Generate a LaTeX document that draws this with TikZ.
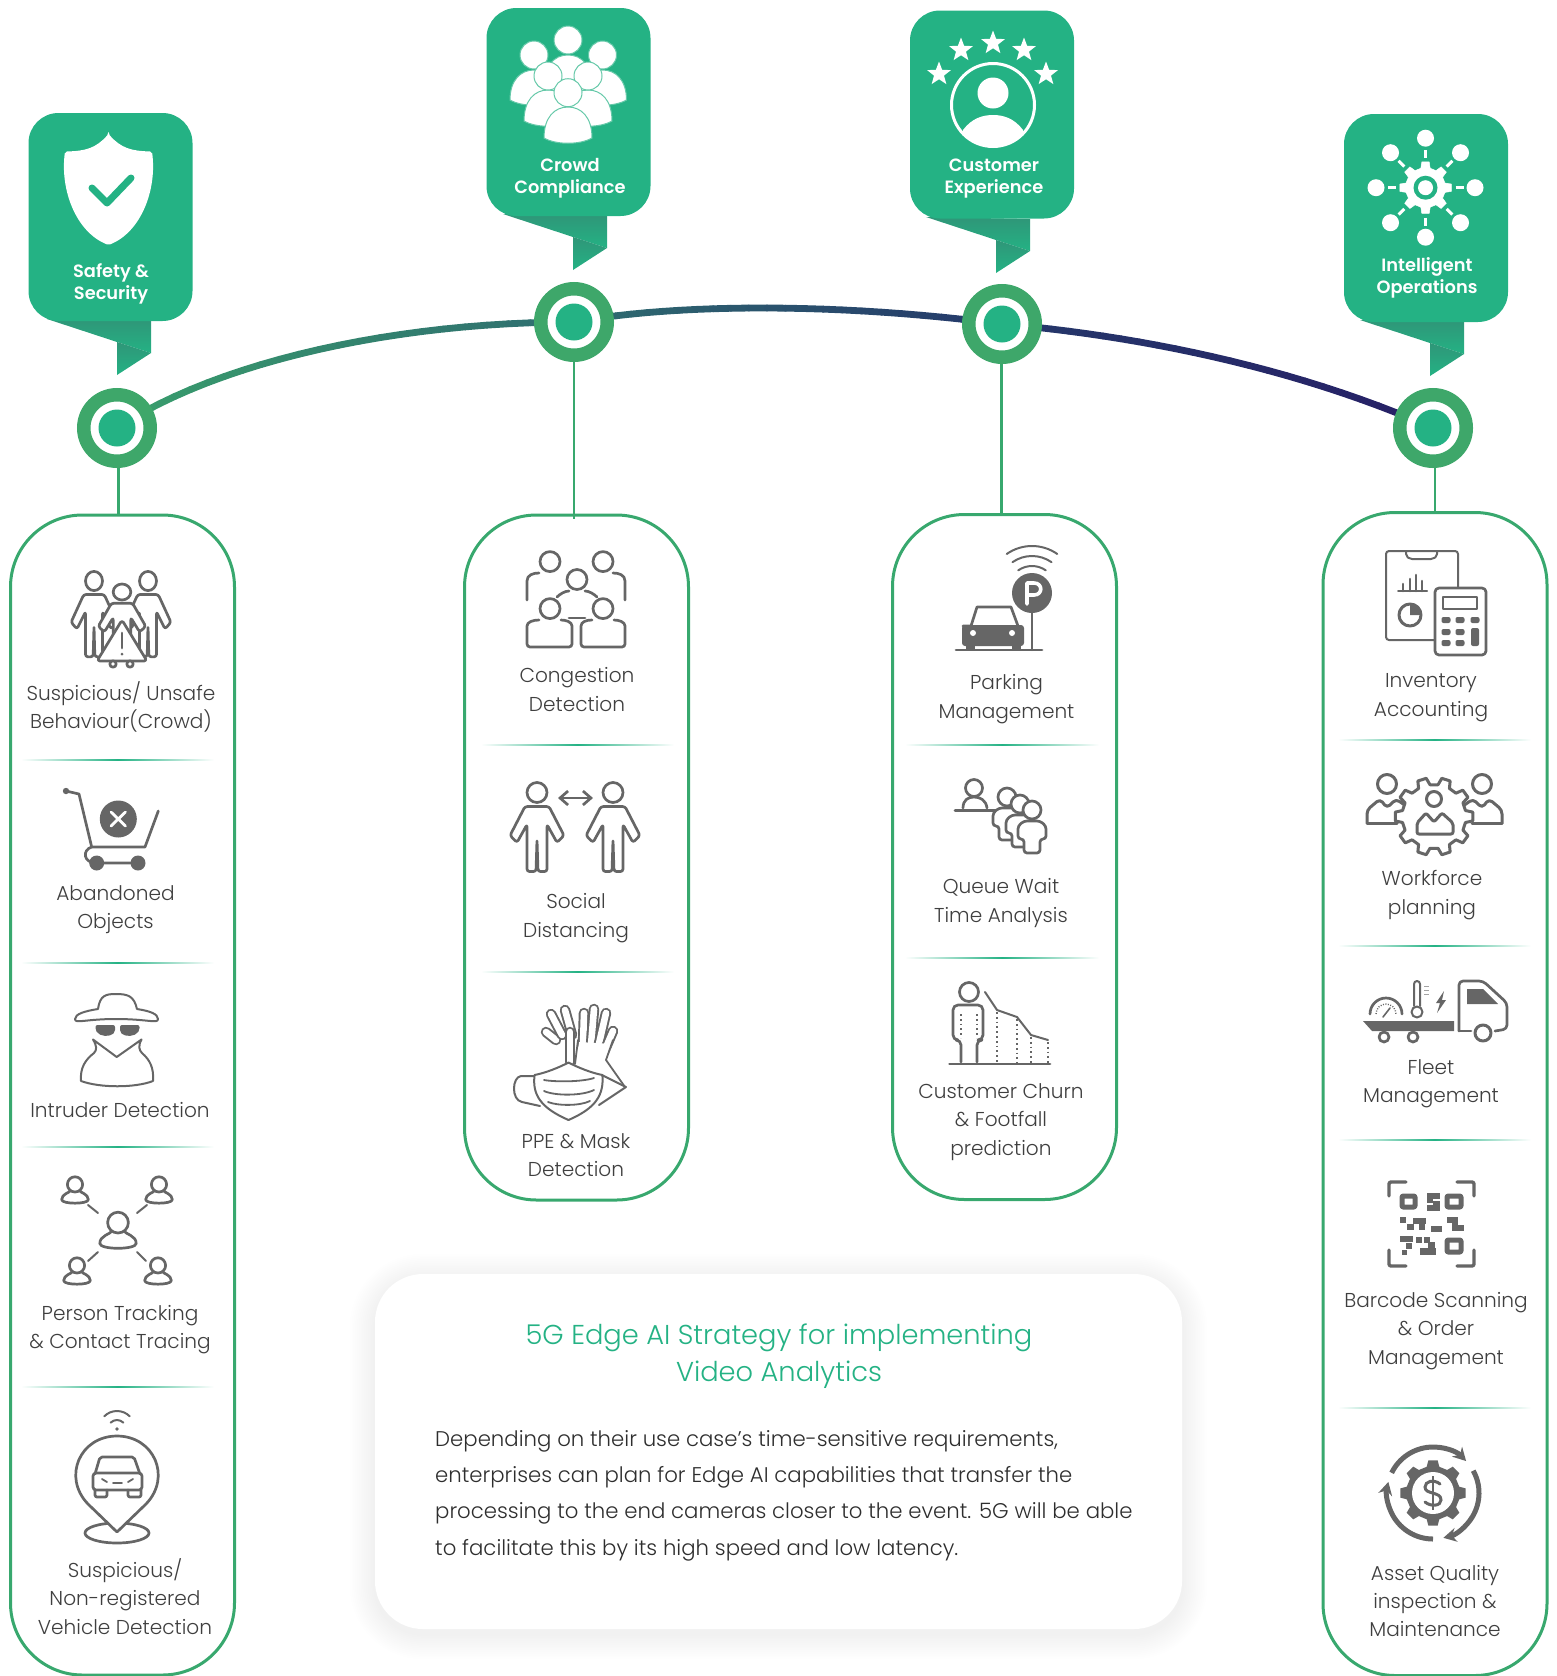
\documentclass[tikz,border=0pt]{standalone}
\usepackage{fontspec}
\setmainfont{Poppins Light}
\newfontfamily\badgefont{Poppins SemiBold}
\usetikzlibrary{arrows.meta,calc}
\definecolor{teal1}{HTML}{24B284}
\definecolor{tealdark}{HTML}{2F9678}
\definecolor{ringgreen}{HTML}{3EA76A}
\definecolor{lanegreen}{HTML}{38A86E}
\definecolor{icongray}{HTML}{666666}
\definecolor{txtgray}{HTML}{3F3F3F}
\definecolor{cvA}{HTML}{39A06C}
\definecolor{cvB}{HTML}{2F6E70}
\definecolor{cvC}{HTML}{25386A}
\definecolor{cvD}{HTML}{262066}
\pgfdeclarelayer{bg}\pgfsetlayers{bg,main}
\tikzset{
  ic/.style={draw=icongray,line width=2.7pt,line cap=round,line join=round},
  icthin/.style={draw=icongray,line width=1.8pt,line cap=round,line join=round},
  icfill/.style={fill=icongray},
  crowdline/.style={fill=white,draw=teal1!70!white,line width=1pt},
  badgebox/.style={fill=teal1,rounded corners=30pt,minimum width=164pt,minimum height=208pt,inner sep=0pt,draw=none},
  badgetxt/.style={text=white,align=center,inner sep=0pt,font=\badgefont\fontsize{17.8}{22}\selectfont},
  ring/.style={circle,fill=white,draw=ringgreen,line width=13.5pt,minimum size=66.5pt,inner sep=0pt},
  ringdot/.style={circle,fill=teal1,minimum size=37pt,inner sep=0pt},
  lane/.style={draw=lanegreen,line width=3pt,rounded corners=72pt,minimum width=224pt,inner sep=0pt},
  lbl/.style={text=txtgray,align=center,inner sep=0pt,font=\fontsize{20.1}{28.4}\selectfont},
  link/.style={draw=lanegreen,line width=2.4pt},
  cardbox/.style={fill=white,rounded corners=48pt,minimum width=807pt,minimum height=355pt,inner sep=0pt},
  cardtitle/.style={text=teal1,align=center,inner sep=0pt,font=\fontsize{27.3}{37.4}\selectfont},
  cardbody/.style={text=black!82,align=left,inner sep=0pt,font=\fontsize{21.25}{36.4}\selectfont},
}
\newcommand{\icribbon}[2]{% x0, bottom y
  \shade[top color=tealdark,bottom color=teal1] ({#1+19},{#2-2}) -- ({#1+123},#2) -- ({#1+123},{#2+32}) -- ({#1+89},{#2+21}) -- cycle;
  \shade[top color=tealdark,bottom color=teal1] ({#1+89},{#2+21}) -- ({#1+123},{#2+32}) -- ({#1+89},{#2+54}) -- cycle;
}
\newcommand{\icsep}[3]{% x1,x2,y
  \shade[left color=white,right color=white,middle color=teal1] ({#1-2},{#3-.9}) rectangle ({#2+2},{#3+.9});
}
\newcommand{\iccurve}[6]{%
  \foreach \i in {1,...,24}{%
    \pgfmathsetmacro\pp{(\i-1)/24}\pgfmathsetmacro\qq{\i/24}\pgfmathtruncatemacro\mm{100*(\i-1)/23}%
    \path (#1.center) .. controls (#2) and (#3) .. (#4.center) coordinate[pos=\pp] (cva) coordinate[pos=\qq] (cvb);
    \draw[line width=6.8pt,line cap=round,color=#6!\mm!#5] (cva) -- (cvb);
  }%
}
\newcommand{\icperson}[4]{%
  \begin{scope}[shift={(#1,#2)},xscale=#3,yscale=#4]
    \draw[ic,fill=white] (0,0) circle (10);
    \draw[ic,fill=white,rounded corners=2.5pt] (-12,14)--(12,14)--(27,43)--(20,50)--(10,32)--(10,79)--(1,79)--(0,47)--(-1,79)--(-10,79)--(-10,32)--(-20,50)--(-27,43)--cycle;
  \end{scope}}
\newcommand{\icbust}[3]{% x,y,scale
  \begin{scope}[shift={(#1,#2)},scale=#3]
    \draw[ic,fill=white] (-4,-2) .. controls (-6,1) and (-14,2) .. (-14,8) .. controls (-14,13) and (14,13) .. (14,8) .. controls (14,2) and (6,1) .. (4,-2);
    \draw[ic,fill=white] (0,-8) circle (8);
  \end{scope}}
\newcommand{\icwifi}[4]{% x,y,radius list,half angle
  \foreach \r in {#3}{\draw[ic,line width=2pt] ([shift={({270-#4}:\r)}]#1,#2) arc[start angle={270-#4},end angle={270+#4},radius=\r];}}
\newcommand{\icgear}[7]{% opts,x,y,n,r1,r2,dummy
  \begin{scope}[shift={(#2,#3)}]
    \pgfmathsetmacro\stp{360/#4}
    \draw[#1] ({-.18*\stp}:#6) \foreach \i in {1,...,#4}{ -- ({(\i-1)*\stp-.18*\stp}:#6) -- ({(\i-1)*\stp+.18*\stp}:#6) -- ({(\i-1)*\stp+.3*\stp}:#5) -- ({\i*\stp-.3*\stp}:#5) } -- cycle;
  \end{scope}}
\newcommand{\icstar}[3]{%
  \begin{scope}[shift={(#1,#2)}]
    \fill[white] (270:#3) \foreach \k in {1,...,9}{ -- ({270+36*\k}:{#3*(1-.58*mod(\k,2))}) } -- cycle;
  \end{scope}}
\newcommand{\crowdbody}[4]{%
  \draw[crowdline] ({#1-#3},{#4-5}) .. controls ({#1-#3},{#2+10}) and ({#1-#3*.55},#2) .. (#1,#2) .. controls ({#1+#3*.55},#2) and ({#1+#3},{#2+10}) .. ({#1+#3},{#4-5}) .. controls ({#1+#3*.5},{#4+2}) and ({#1-#3*.5},{#4+2}) .. cycle;
}
\newcommand{\crowdhead}[3]{\draw[crowdline] (#1,#2) circle (#3);}
\newcommand{\capsule}[4]{% x1,y1,x2,y2
  \draw[draw=icongray,line width=10.5pt,line cap=round] (#1,#2) -- (#3,#4);
  \draw[draw=white,line width=6.6pt,line cap=round] (#1,#2) -- (#3,#4);
}
\newcommand{\ickey}[2]{\fill[icongray,rounded corners=2pt] ({#1-4.5},{#2-3}) rectangle ({#1+4.5},{#2+3});}
\begin{document}
\begin{tikzpicture}[x=1pt,y=-1pt]
\useasboundingbox (0,0) rectangle (1557,1676);

% ---- badges
\icribbon{28}{321}\icribbon{484}{216}\icribbon{907}{219}\icribbon{1341}{322}
\node[badgebox] (bg1) at (110.5,217) {};
\node[badgebox] (bg2) at (568.5,112) {};
\node[badgebox] (bg3) at (992,114.5) {};
\node[badgebox] (bg4) at (1426,218) {};
\node[badgetxt] (bt1) at (111,283.5) {Safety \&\\Security};
\node[badgetxt] (bt2) at (570,178.5) {Crowd\\Compliance};
\node[badgetxt] (bt3) at (994,178.5) {Customer\\Experience};
\node[badgetxt] (bt4) at (1427,278) {Intelligent\\Operations};

% shield
\fill[white,rounded corners=2pt] (108.5,134) .. controls (96,148) and (86,151) .. (65,151.5) .. controls (60,190) and (76,232) .. (108.5,245) .. controls (141,232) and (157,190) .. (152,151.5) .. controls (131,151) and (121,148) .. (108.5,134) -- cycle;
\draw[teal1,line width=7pt,line cap=round,line join=round] (92,188) -- (107,203) -- (131,178);

% crowd
\crowdbody{568}{55}{25}{100}\crowdhead{568}{40}{14}
\crowdbody{534}{70}{24}{105}\crowdbody{602.5}{70}{24}{105}
\crowdhead{534}{55}{14}\crowdhead{602.5}{55}{14}
\crowdbody{548}{90}{24}{126}\crowdbody{588}{90}{24}{126}
\crowdhead{548}{76}{14}\crowdhead{588}{76}{14}
\crowdbody{568}{107}{24}{143}\crowdhead{568}{92.7}{14}

% customer
\icstar{993}{43}{12.5}\icstar{961}{50}{12.5}\icstar{1024}{50}{12.5}\icstar{939}{74}{12.5}\icstar{1046}{74}{12.5}
\draw[white,line width=3pt] (993,105) circle (41.5);
\fill[white] (993,93) circle (15.5);
\begin{scope}
  \clip (993,105) circle (41);
  \fill[white] (962,150) -- (963,130) .. controls (972,118) and (983,115) .. (993,115) .. controls (1003,115) and (1014,118) .. (1023,130) -- (1024,150) -- cycle;
\end{scope}

% intelligent ops
\foreach \a in {0,45,...,315}{%
  \fill[white] ($(1425.5,187.7)+(\a:49.5)$) circle (8.5);
  \draw[white,line width=3pt] ($(1425.5,187.7)+(\a:30)$) -- ($(1425.5,187.7)+(\a:38)$);
}
\icgear{fill=white,draw=white,line width=.5pt}{1425.5}{187.7}{8}{20}{26}{}
\fill[teal1] (1425.5,187.7) circle (12);
\fill[white] (1425.5,187.7) circle (7.5);

% ---- lane boxes
\node[lane,minimum height=1160pt] (b1) at (122.5,1095) {};
\node[lane,minimum height=685pt] (b2) at (576.5,857.5) {};
\node[lane,minimum height=685pt] (b3) at (1004.5,857) {};
\node[lane,minimum height=1163pt] (b4) at (1435,1094) {};

% ---- timeline nodes
\node[ring] (n1) at (117,428) {}; \node[ringdot] (d1) at (n1) {};
\node[ring] (n2) at (574,322) {}; \node[ringdot] (d2) at (n2) {};
\node[ring] (n3) at (1002,324) {}; \node[ringdot] (d3) at (n3) {};
\node[ring] (n4) at (1433,428) {}; \node[ringdot] (d4) at (n4) {};

\begin{pgfonlayer}{bg}
  \coordinate (c1a) at (220,360); \coordinate (c1b) at (400,322);
  \coordinate (c2a) at (680,303); \coordinate (c2b) at (840,303);
  \coordinate (c3a) at (1130,335); \coordinate (c3b) at (1290,365);
  \iccurve{n1}{c1a}{c1b}{n2}{cvA}{cvB}
  \iccurve{n2}{c2a}{c2b}{n3}{cvB}{cvC}
  \iccurve{n3}{c3a}{c3b}{n4}{cvC}{cvD}
  \draw[link] ([xshift=1.5pt]n1.south) -- ([xshift=1.5pt]n1.south |- b1.north);
  \draw[link,shorten >=-5pt] (n2.south) -- (n2.south |- b2.north);
  \draw[link] ([xshift=-.5pt]n3.south) -- ([xshift=-.5pt]n3.south |- b3.north);
  \draw[link] ([xshift=2pt]n4.south) -- ([xshift=2pt]n4.south |- b4.north);
\end{pgfonlayer}

% ---- separators
\icsep{23}{212}{760}\icsep{23}{212}{963}\icsep{23}{212}{1147}\icsep{23}{212}{1387}
\icsep{483}{672}{745}\icsep{483}{672}{972}
\icsep{907}{1097}{745}\icsep{907}{1097}{958}
\icsep{1340}{1529}{740}\icsep{1340}{1529}{946}\icsep{1340}{1529}{1140}\icsep{1340}{1529}{1408}

% ---- labels
\node[lbl] (l11) at (121,707) {Suspicious/ Unsafe\\Behaviour(Crowd)};
\node[lbl] (l12) at (115.5,909.5) {Abandoned\\Objects};
\node[lbl] (l13) at (120,1110) {Intruder Detection};
\node[lbl] (l14) at (120,1329.5) {Person Tracking\\\& Contact Tracing};
\node[lbl] (l15) at (125,1596.5) {Suspicious/\\Non-registered\\Vehicle Detection};
\node[lbl] (l21) at (577,689.5) {Congestion\\Detection};
\node[lbl] (l22) at (576,918) {Social\\Distancing};
\node[lbl] (l23) at (576,1155) {PPE \& Mask\\Detection};
\node[lbl] (l31) at (1006.5,699) {Parking\\Management};
\node[lbl] (l32) at (1001,903) {Queue Wait\\Time Analysis};
\node[lbl] (l33) at (1001,1122) {Customer Churn\\\& Footfall\\prediction};
\node[lbl] (l41) at (1431,697.5) {Inventory\\Accounting};
\node[lbl] (l42) at (1432,895) {Workforce\\planning};
\node[lbl] (l43) at (1431,1084) {Fleet\\Management};
\node[lbl] (l44) at (1436,1331) {Barcode Scanning\\\& Order\\Management};
\node[lbl] (l45) at (1435,1601) {Asset Quality\\inspection \&\\Maintenance};

% ---- info card
\foreach \k in {1,...,14}{%
  \pgfmathsetmacro\rc{48+1.8*\k}
  \fill[black,opacity=.005,rounded corners=\rc pt] ({375-1.8*\k},{1274-1.8*\k+5}) rectangle ({1182+1.8*\k},{1629+1.8*\k+5});
}
\node[cardbox] (card) at (778.5,1451.5) {};
\node[cardtitle] (ct) at (779,1356) {5G Edge AI Strategy for implementing\\Video Analytics};
\node[cardbody,anchor=west] (cb) at (435,1495.5) {Depending on their use case's time-sensitive requirements,\\enterprises can plan for Edge AI capabilities that transfer the\\processing to the end cameras closer to the event. 5G will be able\\to facilitate this by its high speed and low latency.};

% ---- ICON suspicious crowd
\icperson{94}{581}{.85}{.96}\icperson{148}{581}{.85}{.96}
\icperson{122}{592}{.88}{.8}
\draw[ic,fill=white,rounded corners=3pt] (122,620) -- (147,661) -- (97,661) -- cycle;
\draw[ic,fill=white] (113,664) circle (3.2); \draw[ic,fill=white] (130,664) circle (3.2);
\draw[ic] (122,633) -- (122,648); \fill[icongray] (122,654) circle (1.5);

% ---- ICON cart
\fill[icongray] (66,791) circle (3.2);
\draw[ic] (66,791) -- (79,794) -- (91.7,847) -- (145,847) -- (158.3,811);
\draw[ic] (91.7,847) .. controls (82,850) and (83,863) .. (96.7,863) -- (138,863);
\fill[icongray] (96.7,863) circle (7.5); \fill[icongray] (138,863) circle (7.5);
\fill[icongray] (118.3,819) circle (18.5);
\draw[white,line width=2.8pt,line cap=round] (111,812) -- (125.5,826) (125.5,812) -- (111,826);

% ---- ICON intruder
\draw[ic,line width=2pt,fill=white] (98,1009) .. controls (100,995) and (106,994) .. (116,994) .. controls (128,994) and (134,996) .. (137,1009) .. controls (150,1011) and (158,1014) .. (158,1019) .. controls (158,1024) and (148,1019) .. (116,1019) .. controls (85,1019) and (75,1024) .. (75,1019) .. controls (75,1014) and (85,1011) .. (98,1009) -- cycle;
\fill[icongray,rounded corners=2pt] (95.5,1025) -- (115,1025) -- (115,1032) .. controls (110,1037) and (100,1037) .. (95.5,1030) -- cycle;
\fill[icongray,rounded corners=2pt] (120,1025) -- (139.5,1025) -- (139.5,1030) .. controls (135,1037) and (125,1037) .. (120,1032) -- cycle;
\draw[ic,line width=2pt] (93,1039.5) -- (116.7,1057) -- (141.5,1039.5) .. controls (138,1046) and (139,1050) .. (142,1053) .. controls (150,1060) and (154,1068) .. (153,1081) .. controls (135,1088) and (100,1088) .. (81,1081) .. controls (80,1068) and (85,1060) .. (94,1053) .. controls (97,1050) and (97,1046) .. (93,1039.5) -- cycle;

% ---- ICON tracking
\icbust{118}{1233}{1.3}
\icbust{75}{1192}{.95}\icbust{159}{1192}{.95}\icbust{77}{1273}{.95}\icbust{158}{1273}{.95}
\draw[ic,line width=2pt] (88,1205)--(98,1213) (147,1205)--(137,1213) (88,1261)--(98,1252) (146,1261)--(137,1252);

% ---- ICON vehicle pin
\icwifi{117}{1429}{9,18}{45}
\fill[icongray] (117,1429) circle (1.8);
\draw[ic,fill=white] (117,1533) ellipse (32 and 10);
\draw[ic,fill=white] (117,1532) -- (88,1504) .. controls (62,1477) and (80,1436) .. (117,1436) .. controls (154,1436) and (172,1477) .. (146,1504) -- cycle;
\draw[ic,rounded corners=2pt] (95,1474) -- (100,1457) -- (134,1457) -- (140,1474);
\draw[ic,rounded corners=3pt] (93,1473) rectangle (142,1490);
\draw[ic,rounded corners=2pt] (95,1490) -- (95,1497) -- (107,1497) -- (107,1490) (128,1490) -- (128,1497) -- (141,1497) -- (141,1490);
\draw[ic,line width=1.8pt] (102,1479)--(107,1482) (113,1483)--(122,1483) (133,1479)--(128,1482);

% ---- ICON congestion
\draw[ic] (527,600) -- (527,581) .. controls (527,575) and (533,573) .. (539,573);
\draw[ic] (625,600) -- (625,581) .. controls (625,575) and (619,573) .. (613,573);
\draw[ic] (557,597) .. controls (560,594) and (565,591) .. (569,591);
\draw[ic] (597,597) .. controls (594,594) and (589,591) .. (585,591);
\draw[ic] (569,618) -- (585,618);
\foreach \h/\v in {550/561.6,603/561.6,577/579.5,550/608.6,603/608.6}{\draw[ic] (\h,\v) circle (10);}
\draw[ic,rounded corners=3pt] (539,620) .. controls (533,620) and (527,622) .. (527,629) -- (527,647) -- (572,647) -- (572,629) .. controls (572,622) and (566,620) .. (561,620);
\draw[ic,rounded corners=3pt] (592,620) .. controls (586,620) and (581,622) .. (581,629) -- (581,647) -- (625,647) -- (625,629) .. controls (625,622) and (619,620) .. (614,620);

% ---- ICON social distance
\icperson{537}{792.5}{1}{1}\icperson{613}{792.5}{1}{1}
\draw[ic,{Straight Barb[length=8pt,width=14pt]}-{Straight Barb[length=8pt,width=14pt]}] (558,798) -- (593,798);

% ---- ICON ppe
\capsule{556}{1040}{546}{1032}\capsule{562}{1035}{551}{1014}\capsule{572}{1035}{565}{1010}
\capsule{570}{1062}{570}{1032}
\capsule{583}{1045}{584}{1013}\capsule{591}{1045}{594}{1009}\capsule{598}{1048}{606}{1013}\capsule{604}{1052}{613}{1031}
\fill[white] (575,1070) -- (579,1042) -- (612,1044) -- (604,1072) -- cycle;
\draw[icthin] (613,1040) -- (606,1060) -- (625,1087);
\draw[icthin] (578,1040) -- (575,1064);
\draw[ic,line width=2pt] (534.6,1076) -- (521,1076) .. controls (512,1077) and (511,1100) .. (522,1102) -- (540,1106);
\draw[ic,line width=2pt] (602,1075) -- (626,1087) -- (599,1105);
\draw[ic,line width=2pt,fill=white] (534.6,1075) .. controls (545,1073) and (558,1068) .. (568.5,1062.5) .. controls (579,1068) and (592,1073) .. (602.4,1075) .. controls (604,1095) and (596,1108) .. (568.5,1120) .. controls (541,1108) and (532,1095) .. (534.6,1075) -- cycle;
\draw[ic,line width=1.8pt] (544,1080) .. controls (555,1082) and (582,1082) .. (594,1078);
\draw[ic,line width=1.8pt] (544,1091) .. controls (555,1096) and (582,1096) .. (594,1090);
\draw[ic,line width=1.8pt] (548,1102) .. controls (558,1106) and (580,1106) .. (590,1101);

% ---- ICON parking
\icwifi{1032}{590}{24,34,44}{35}
\draw[ic,line width=2pt] (1032,613) -- (1032,650);
\draw[ic] (956,650) -- (1042,650);
\fill[icongray] (1032,593) circle (20);
\draw[white,line width=3.6pt,line cap=round,line join=round] (1027,604) -- (1027,583) -- (1034,583) .. controls (1043,583) and (1043,595) .. (1034,595) -- (1027,595);
\draw[ic] (963,626) -- (971,626) -- (977,607) -- (1011,607) -- (1018,626);
\fill[icongray,rounded corners=3pt] (962,625) rectangle (1024,646);
\fill[icongray] (966,645) rectangle (975,650); \fill[icongray] (1012,645) rectangle (1021,650);
\fill[white] (973,633) circle (3); \fill[white] (1012,633) circle (3);

% ---- ICON queue
\draw[ic] (955,810.5) -- (997,810.5);
\draw[ic] (974,788) circle (8.5);
\draw[ic] (963,808) .. controls (963,800) and (968,797) .. (974,797) .. controls (980,797) and (986,800) .. (987,808);
\foreach \qx/\qy in {1007/797,1020/804,1032/810}{%
  \begin{scope}[shift={(\qx,\qy)}]
    \draw[ic,fill=white,rounded corners=3pt] (-8,11) -- (8,11) -- (14,16) -- (14,29) -- (8,29) -- (8,43) -- (-8,43) -- (-8,29) -- (-14,29) -- (-14,16) -- cycle;
    \draw[ic,fill=white] (0,0) circle (9);
  \end{scope}}

% ---- ICON churn
\draw[ic] (969,992) circle (9.5);
\draw[ic,rounded corners=5pt] (961,1062) -- (961,1040) -- (953,1040) -- (953,1005) -- (983,1005) -- (983,1040) -- (977,1040) -- (977,1062);
\draw[ic] (949.5,1064) -- (1050,1064);
\draw[ic,line width=2pt] (985,992) -- (997,1010) -- (1017,1017) -- (1031,1035) -- (1048,1040);
\foreach \dx/\dy in {997/1012,1017/1019,1031/1037,1048/1042}{\draw[icongray,line width=1.8pt,dash pattern=on 1.8pt off 3pt] (\dx,\dy) -- (\dx,1063);}
\foreach \dx in {961,977}{\draw[icongray,line width=1.8pt,dash pattern=on 1.8pt off 3pt] (\dx,1014) -- (\dx,1038);}

% ---- ICON inventory
\draw[ic,line width=2pt,rounded corners=3pt] (1435,640) -- (1386,640) -- (1386,551) -- (1458,551) -- (1458,588);
\draw[ic,line width=2pt,rounded corners=2pt] (1406,551) -- (1406,556) -- (1410,559) -- (1433,559) -- (1437,556) -- (1437,551);
\draw[ic,line width=2pt] (1398,591) -- (1427,591);
\draw[ic,line width=2.6pt] (1403,591)--(1403,584) (1410,591)--(1410,579) (1416,591)--(1416,575) (1422,591)--(1422,581);
\draw[ic,line width=3pt] (1410,615) circle (11);
\fill[icongray] (1410,615) -- (1410,603) arc[start angle=270,end angle=360,radius=12] -- cycle;
\draw[ic,fill=white,rounded corners=4pt] (1435,588) rectangle (1486,655);
\draw[ic,line width=2pt] (1443,597) rectangle (1477,609);
\foreach \kx in {1446,1460,1475}{\ickey{\kx}{620}}
\ickey{1446}{632}\ickey{1460}{632}\ickey{1446}{643}\ickey{1460}{643}
\fill[icongray,rounded corners=2pt] (1471,628) rectangle (1479,646);

% ---- ICON workforce
\draw[ic,line width=3pt] (1387,784) circle (9.5); \draw[ic,line width=3pt] (1482,784) circle (9.5);
\draw[ic,line width=3pt,rounded corners=4pt] (1367,823) -- (1367,810) -- (1380,799) -- (1387,808) -- (1396,799) -- (1406,806);
\draw[ic,line width=3pt] (1367,823) -- (1397,823);
\draw[ic,line width=3pt,rounded corners=4pt] (1502,823) -- (1502,810) -- (1489,799) -- (1482,808) -- (1473,799) -- (1463,806);
\draw[ic,line width=3pt] (1502,823) -- (1472,823);
\icgear{ic,line width=3pt,fill=white}{1434}{816.5}{10}{32}{39}{}
\draw[ic,line width=3pt] (1434,799) circle (7.5);
\draw[ic,line width=3pt,rounded corners=2pt] (1417,834) -- (1417,823) -- (1426,813) -- (1434,822) -- (1442,813) -- (1453,823) -- (1453,834) -- cycle;

% ---- ICON fleet
\draw[ic,rounded corners=4pt] (1459,1031) -- (1459,981) -- (1483,981) -- (1507,1003) -- (1507,1029) -- (1495,1031);
\draw[ic] (1459,1031) -- (1471,1031);
\fill[icongray] (1467,989) -- (1483,989) -- (1498,1004) -- (1467,1004) -- cycle;
\draw[ic,line width=3pt,fill=white] (1483,1033) circle (8);
\fill[icongray] (1363,1021) -- (1454,1021) -- (1454,1031) -- (1372,1031) -- cycle;
\draw[ic,fill=white] (1384,1037) circle (5); \draw[ic,fill=white] (1413,1037) circle (5);
\draw[ic] (1370,1014) arc[start angle=180,end angle=360,radius=16];
\draw[icongray,line width=1.4pt,dash pattern=on 1pt off 1.5pt] (1376,1014) arc[start angle=180,end angle=360,radius=10];
\draw[ic,line width=1.6pt] (1383,1017) -- (1390,1008);
\draw[ic,line width=2pt] (1414,1006) -- (1414,984) arc[start angle=180,end angle=360,radius=3] -- (1420,1006);
\draw[ic,line width=2pt] (1417,1012) circle (5.5);
\draw[icongray!60,line width=.8pt] (1424,986)--(1429,986) (1424,990)--(1429,990) (1424,994)--(1429,994);
\fill[icongray] (1444,991) -- (1436,1003) -- (1440,1003) -- (1437,1013) -- (1446,1000) -- (1442,1000) -- cycle;

% ---- ICON barcode
\draw[ic,line width=3.4pt,rounded corners=2pt] (1389,1196) -- (1389,1182) -- (1406,1182);
\draw[ic,line width=3.4pt,rounded corners=2pt] (1457,1182) -- (1474,1182) -- (1474,1196);
\draw[ic,line width=3.4pt,rounded corners=2pt] (1389,1250) -- (1389,1266) -- (1406,1266);
\draw[ic,line width=3.4pt,rounded corners=2pt] (1457,1266) -- (1474,1266) -- (1474,1250);
\draw[ic,line width=5pt,rounded corners=1pt] (1402,1196) rectangle (1415,1207);
\draw[ic,line width=5pt,rounded corners=1pt] (1447,1196) rectangle (1461,1207);
\draw[ic,line width=5pt,rounded corners=1pt] (1447,1240) rectangle (1461,1252);
\foreach \bx/\by/\bw/\bh in {1427/1193/13/6,1427/1193/6/10,1433/1201/7/9,1427/1205/13/6,1400/1217/6/6,1407/1224/7/6,1413/1218/13/6,1419/1218/6/12,1431/1226/11/6,1447/1217/11/6,1452/1217/6/13,1452/1225/12/6,1400/1236/13/6,1416/1237/6/6,1406/1243/6/6,1424/1237/6/6,1428/1242/7/6,1420/1248/16/7,1402/1250/5/5}{%
  \fill[icongray] (\bx,\by) rectangle ({\bx+\bw},{\by+\bh});
}

% ---- ICON asset
\draw[icongray,line width=5pt,-{Stealth[length=13pt,width=14pt]}] ([shift={(206:46)}]1433,1493) arc[start angle=206,end angle=316,radius=46];
\draw[icongray,line width=5pt,-{Stealth[length=13pt,width=14pt]}] ([shift={(331:46)}]1433,1493) arc[start angle=331,end angle=437,radius=46];
\draw[icongray,line width=5pt,-{Stealth[length=13pt,width=14pt]}] ([shift={(90:46)}]1433,1493) arc[start angle=90,end angle=194,radius=46];
\icgear{fill=icongray,draw=none}{1433}{1493}{8}{27}{33}{}
\fill[white] (1433,1493) circle (21);
\draw[icongray,line width=3pt,line cap=round] (1440,1484) .. controls (1434,1479) and (1425,1481) .. (1425,1487) .. controls (1425,1495) and (1441,1491) .. (1441,1500) .. controls (1441,1506) and (1431,1507) .. (1425,1502);
\draw[icongray,line width=2.4pt] (1433,1476) -- (1433,1510);
\end{tikzpicture}
\end{document}
